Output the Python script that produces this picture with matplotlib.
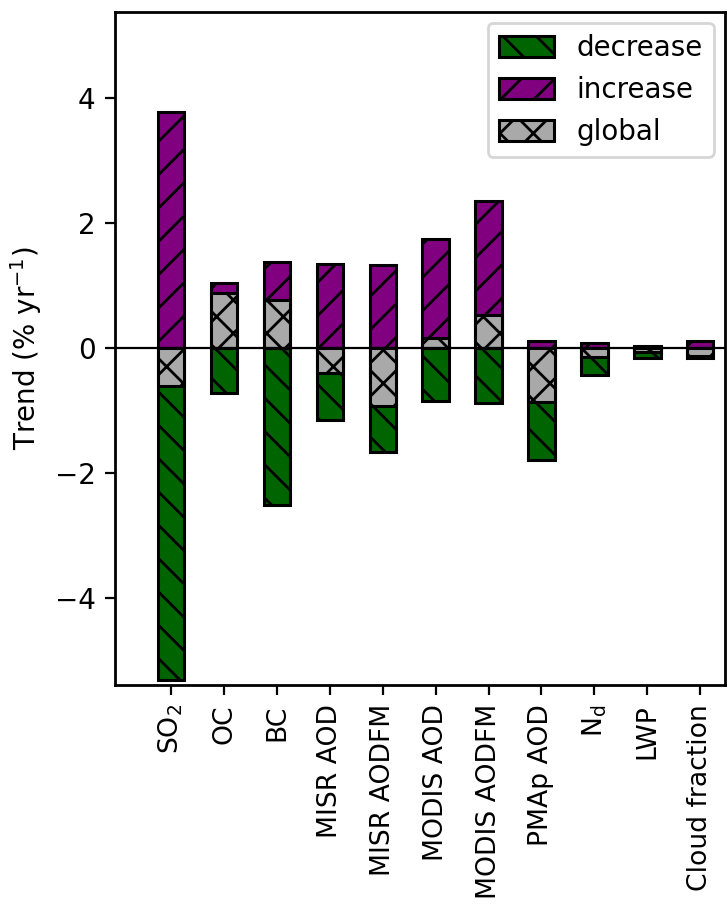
import matplotlib
matplotlib.use("Agg")
import matplotlib.pyplot as plt
import numpy as np

categories = ["SO$_2$", "OC", "BC", "MISR AOD", "MISR AODFM", "MODIS AOD",
              "MODIS AODFM", "PMAp AOD", "N$_\\mathrm{d}$", "LWP", "Cloud fraction"]
decrease = [-5.31, -0.72, -2.50, -1.15, -1.66, -0.85, -0.88, -1.79, -0.43, -0.16, -0.16]
increase = [3.78, 1.04, 1.38, 1.35, 1.33, 1.74, 2.35, 0.11, 0.08, 0.03, 0.11]
global_ = [-0.61, 0.88, 0.78, -0.40, -0.93, 0.16, 0.53, -0.86, -0.14, -0.06, -0.12]

plt.rcParams['font.size'] = 10.0
plt.rcParams['hatch.linewidth'] = 1.0
plt.rcParams['axes.linewidth'] = 1.0

fig = plt.figure(figsize=(3.64, 4.535), dpi=200)
ax = fig.add_axes([0.158, 0.245, 0.838, 0.742])

x = np.arange(len(categories))
w = 0.5
ax.bar(x, decrease, w, color='darkgreen', edgecolor='black', hatch='\\\\', linewidth=1.1, label='decrease')
ax.bar(x, increase, w, color='purple', edgecolor='black', hatch='//', linewidth=1.1, label='increase')
ax.bar(x, global_, w, color='darkgray', edgecolor='black', hatch='xx', linewidth=1.1, label='global')
ax.axhline(0, color='black', linewidth=0.8)

ax.set_xticks(x)
ax.set_xticklabels(categories, rotation=90, fontsize=9.6)
ax.set_xlim(-1.06, 10.47)
ax.set_ylim(-5.38, 5.38)
ax.set_yticks([-4, -2, 0, 2, 4])
ax.set_ylabel("Trend (% yr$^{-1}$)")
ax.legend(loc='upper right', handlelength=2.0, handleheight=0.8, borderaxespad=0.4)

fig.savefig("out.png", dpi=200)
